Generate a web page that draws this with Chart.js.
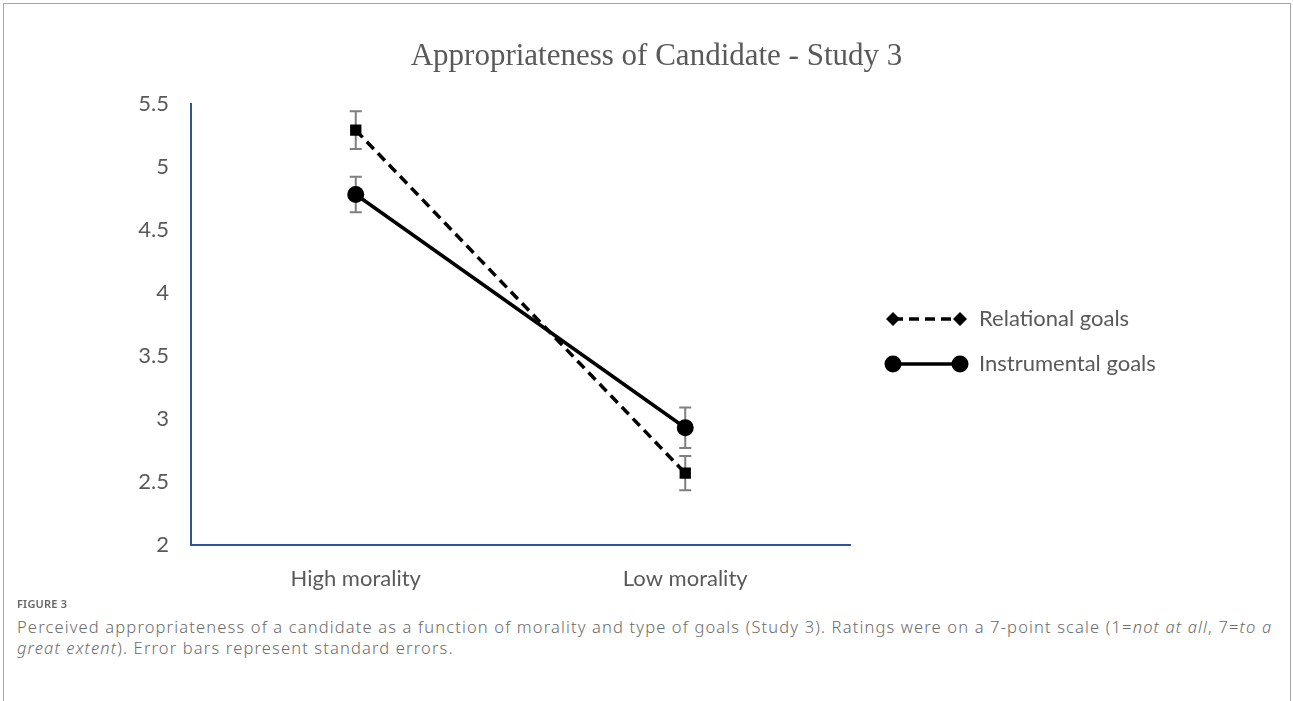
<!DOCTYPE html>
<html>
<head>
<meta charset="utf-8">
<script src="https://cdn.jsdelivr.net/npm/chart.js@4"></script>
<style>
body{margin:0;background:#fff;width:1293px;height:701px;overflow:hidden;position:relative;font-family:"Noto Sans",sans-serif;}
#frame{position:absolute;left:3px;top:3px;width:1286px;height:710px;border:1px solid #a6a6a6;border-bottom:none;}
#wrap{position:absolute;left:0;top:0;width:1293px;height:600px;}
#figlabel{position:absolute;left:17px;top:596px;font-size:11px;color:#666;font-weight:600;letter-spacing:0.2px;}
#caption{position:absolute;left:17px;top:616px;width:1270px;font-size:16.5px;line-height:21px;color:#6b6b6b;font-weight:300;letter-spacing:1.15px;white-space:nowrap;}
</style>
</head>
<body>
<div id="frame"></div>
<div id="wrap"><canvas id="lineChart"></canvas></div>
<div id="figlabel">FIGURE 3</div>
<div id="caption">Perceived appropriateness of a candidate as a function of morality and type of goals (Study 3). Ratings were on a 7-point scale (1=<i>not at all</i>, 7=<i>to a<br>great extent</i>). Error bars represent standard errors.</div>
<script>
// DATA

const categories = ["High morality", "Low morality"];
const relational = [5.29, 2.57];
const relationalErr = [0.15, 0.135];
const instrumental = [4.78, 2.93];
const instrumentalErr = [0.14, 0.16];
const yTicks = [2, 2.5, 3, 3.5, 4, 4.5, 5, 5.5];

const textGray = "#595959";

// error bars, drawn under the markers
const errorBars = {
  id: "errorBars",
  beforeDatasetsDraw(chart) {
    const ctx = chart.ctx;
    const y = chart.scales.y;
    ctx.save();
    ctx.strokeStyle = "#7f7f7f";
    ctx.lineWidth = 2;
    chart.data.datasets.forEach((ds, i) => {
      const meta = chart.getDatasetMeta(i);
      meta.data.forEach((pt, j) => {
        const top = y.getPixelForValue(ds.data[j] + ds.errors[j]);
        const bot = y.getPixelForValue(ds.data[j] - ds.errors[j]);
        ctx.beginPath();
        ctx.moveTo(pt.x, top); ctx.lineTo(pt.x, bot);
        ctx.moveTo(pt.x - 6, top); ctx.lineTo(pt.x + 6, top);
        ctx.moveTo(pt.x - 6, bot); ctx.lineTo(pt.x + 6, bot);
        ctx.stroke();
      });
    });
    ctx.restore();
  }
};

// legend with line + markers like the original
const lineLegend = {
  id: "lineLegend",
  afterDraw(chart) {
    const ctx = chart.ctx;
    const x0 = 893, x1 = 960;
    const rows = [319, 364];
    ctx.save();
    chart.data.datasets.forEach((ds, i) => {
      const yy = rows[i];
      ctx.strokeStyle = "#000";
      ctx.lineWidth = 3.5;
      ctx.setLineDash(ds.borderDash || []);
      ctx.beginPath();
      ctx.moveTo(x0, yy); ctx.lineTo(x1, yy);
      ctx.stroke();
      ctx.setLineDash([]);
      ctx.fillStyle = "#000";
      [x0, x1].forEach(px => {
        ctx.beginPath();
        if (i === 0) {
          ctx.moveTo(px, yy - 7); ctx.lineTo(px + 7, yy); ctx.lineTo(px, yy + 7); ctx.lineTo(px - 7, yy);
          ctx.closePath();
        } else {
          ctx.arc(px, yy, 8.5, 0, Math.PI * 2);
        }
        ctx.fill();
      });
      ctx.fillStyle = textGray;
      ctx.font = "22px Lato";
      ctx.textBaseline = "middle";
      ctx.fillText(ds.label, 979, yy);
    });
    ctx.restore();
  }
};

new Chart(document.getElementById("lineChart"), {
  type: "line",
  data: {
    labels: categories,
    datasets: [{
      label: "Relational goals",
      data: relational,
      errors: relationalErr,
      yAxisID: "y",
      borderColor: "#000",
      backgroundColor: "#000",
      borderWidth: 3.5,
      borderDash: [10, 6],
      pointStyle: "rect",
      pointRadius: 8,
      pointBorderWidth: 0,
      fill: false
    }, {
      label: "Instrumental goals",
      data: instrumental,
      errors: instrumentalErr,
      yAxisID: "y",
      borderColor: "#000",
      backgroundColor: "#000",
      borderWidth: 3.5,
      pointStyle: "circle",
      pointRadius: 8.5,
      pointBorderWidth: 0,
      fill: false
    }]
  },
  options: {
    responsive: true,
    maintainAspectRatio: false,
    animation: false,
    layout: { padding: { top: 0, left: 20, right: 0, bottom: 0 } },
    plugins: {
      legend: { display: false },
      tooltip: { enabled: false },
      title: {
        display: true,
        text: "Appropriateness of Candidate - Study 3",
        color: textGray,
        font: { family: "Liberation Serif", size: 31, weight: "normal" },
        padding: { top: 38, bottom: 28.5 }
      }
    },
    scales: {
      x: {
        offset: true,
        grid: { display: false, drawTicks: false },
        border: { color: "#2f5597", width: 2 },
        ticks: { color: textGray, font: { family: "Lato", size: 22 }, padding: 21 },
        afterFit(s) { s.height = 55; }
      },
      y: {
        min: 2,
        max: 5.5,
        afterBuildTicks(s) { s.ticks = yTicks.map(v => ({ value: v })); },
        grid: { display: false, drawTicks: false },
        border: { color: "#2f5597", width: 2 },
        ticks: { color: textGray, font: { family: "Lato", size: 22 }, padding: 22, callback: v => String(v) },
        afterFit(s) { s.width = 171; }
      },
      yR: {
        type: "linear",
        position: "right",
        grid: { display: false, drawTicks: false },
        border: { display: false },
        ticks: { display: false },
        afterFit(s) { s.width = 443; }
      }
    }
  },
  plugins: [errorBars, lineLegend]
});
</script>
</body>
</html>
